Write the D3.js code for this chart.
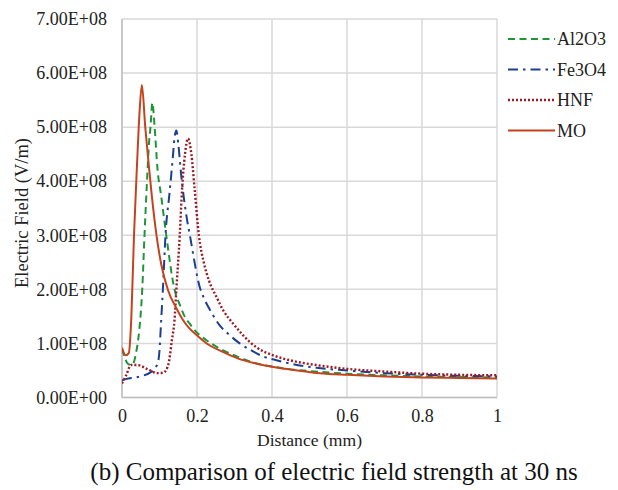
<!DOCTYPE html>
<html><head><meta charset="utf-8">
<script src="https://cdn.jsdelivr.net/npm/d3@7"></script>
<style>body{margin:0;background:#fff}svg{display:block}</style>
</head><body><svg id="c" width="618" height="490"></svg>
<script>
const xTicks = [0, 0.2, 0.4, 0.6, 0.8, 1];
const xTickLabels = ["0", "0.2", "0.4", "0.6", "0.8", "1"];
const yTicks = [0, 1e8, 2e8, 3e8, 4e8, 5e8, 6e8, 7e8];
const yTickLabels = ["0.00E+00","1.00E+08","2.00E+08","3.00E+08","4.00E+08","5.00E+08","6.00E+08","7.00E+08"];
const seriesNames = ["Al2O3", "Fe3O4", "HNF", "MO"];

const al2o3X = [0,0.015,0.024,0.032,0.037,0.046,0.054,0.06,0.066,0.072,0.076,0.081,0.087,0.095,0.104,0.118,0.14,0.155,0.167,0.181,0.2,0.225,0.27,0.314,0.358,0.403,0.45,0.5,0.6,0.7,0.8,0.9,1.0];
const al2o3Y = [0.9,0.63,0.6,0.66,0.81,1.24,2.0,3.0,3.9,4.7,5.0,5.45,5.0,4.2,3.75,3.0,2.0,1.7,1.5,1.36,1.2,1.06,0.87,0.74,0.63,0.57,0.52,0.49,0.44,0.41,0.39,0.38,0.37];

const fe3o4X = [0,0.01,0.042,0.077,0.095,0.1,0.104,0.109,0.116,0.127,0.135,0.14,0.145,0.15,0.158,0.163,0.172,0.181,0.207,0.219,0.238,0.261,0.283,0.314,0.345,0.376,0.412,0.447,0.518,0.6,0.7,0.8,0.9,1.0];
const fe3o4Y = [0.32,0.34,0.38,0.47,0.63,0.87,1.37,2.0,3.0,3.8,4.4,4.8,4.94,4.7,4.1,3.8,3.35,3.0,2.05,1.83,1.58,1.33,1.18,1.0,0.87,0.76,0.69,0.63,0.55,0.5,0.45,0.42,0.4,0.39];

const hnfX = [0,0.011,0.024,0.042,0.069,0.095,0.11,0.117,0.126,0.133,0.14,0.145,0.154,0.16,0.168,0.176,0.185,0.194,0.205,0.218,0.232,0.252,0.27,0.296,0.323,0.358,0.403,0.447,0.518,0.6,0.7,0.8,0.9,1.0];
const hnfY = [0.26,0.41,0.6,0.6,0.52,0.45,0.46,0.5,0.69,1.06,1.43,2.0,3.0,3.83,4.5,4.79,4.5,3.83,3.0,2.5,2.16,1.86,1.61,1.37,1.15,0.93,0.78,0.69,0.6,0.53,0.48,0.44,0.42,0.41];

const moX = [0,0.01,0.018,0.025,0.032,0.04,0.047,0.053,0.062,0.07,0.078,0.092,0.105,0.123,0.145,0.163,0.181,0.2,0.23,0.27,0.31,0.358,0.4,0.447,0.527,0.6,0.7,0.8,0.9,1.0];
const moY = [0.92,0.78,0.82,1.5,3.0,4.3,5.3,5.78,5.0,4.4,3.83,3.0,2.45,1.98,1.65,1.43,1.27,1.15,0.98,0.84,0.72,0.63,0.57,0.52,0.45,0.42,0.39,0.37,0.36,0.35];
const yUnit = 1e8;

const FONT = "'Liberation Serif', 'Times New Roman', serif";

const series = [
  {name: seriesNames[0], xs: al2o3X, ys: al2o3Y, color: "#1e9638", dash: "7,4.5"},
  {name: seriesNames[1], xs: fe3o4X, ys: fe3o4Y, color: "#1c3f8f", dash: "10,5,2.5,5"},
  {name: seriesNames[2], xs: hnfX, ys: hnfY, color: "#9b1b25", dash: "2,2"},
  {name: seriesNames[3], xs: moX, ys: moY, color: "#c4431c", dash: null}
];

const svg = d3.select("#c");
const L = 122, R = 497, T = 19, B = 397.5;
const x = d3.scaleLinear().domain([0, 1]).range([L, R]);
const y = d3.scaleLinear().domain([0, 7e8]).range([B, T]);

const g = svg.append("g");
g.selectAll(".gy").data(yTicks).join("line")
  .attr("x1", L).attr("x2", R).attr("y1", d => y(d)).attr("y2", d => y(d))
  .attr("stroke", "#d9d9d9").attr("stroke-width", 1.5);
g.selectAll(".gx").data(xTicks).join("line")
  .attr("y1", T).attr("y2", B).attr("x1", d => x(d)).attr("x2", d => x(d))
  .attr("stroke", "#d9d9d9").attr("stroke-width", 1.5);
svg.append("line").attr("x1", L).attr("x2", L).attr("y1", T).attr("y2", B).attr("stroke", "#bfbfbf").attr("stroke-width", 1.5);
svg.append("line").attr("x1", L).attr("x2", R).attr("y1", B).attr("y2", B).attr("stroke", "#bfbfbf").attr("stroke-width", 1.5);

const yAxis = d3.axisLeft(y).tickValues(yTicks).tickFormat((d, i) => yTickLabels[i]).tickSize(0).tickPadding(15);
const ya = svg.append("g").attr("transform", `translate(${L},0)`).call(yAxis);
ya.attr("font-family", null).attr("font-size", null);
ya.select(".domain").remove();
ya.selectAll("text").style("font-family", FONT).style("font-size", "18px").attr("fill", "#222");

const xAxis = d3.axisBottom(x).tickValues(xTicks).tickFormat((d, i) => xTickLabels[i]).tickSize(0).tickPadding(12);
const xa = svg.append("g").attr("transform", `translate(0,${B})`).call(xAxis);
xa.attr("font-family", null).attr("font-size", null);
xa.select(".domain").remove();
xa.selectAll("text").style("font-family", FONT).style("font-size", "18px").attr("fill", "#222");

function txt(sel, size) { return sel.style("font-family", FONT).style("font-size", size + "px").attr("fill", "#222"); }
txt(svg.append("text").attr("x", (L + R) / 2).attr("y", 446).attr("text-anchor", "middle"), 17.6).text("Distance (mm)");
txt(svg.append("text").attr("transform", "translate(28,213) rotate(-90)").attr("text-anchor", "middle"), 18.5).text("Electric Field (V/m)");
txt(svg.append("text").attr("x", 334).attr("y", 480).attr("text-anchor", "middle"), 25).attr("fill", "#111").text("(b) Comparison of electric field strength at 30 ns");

const line = d3.line().x(d => x(d[0])).y(d => y(d[1] * yUnit)).curve(d3.curveMonotoneX);
svg.append("clipPath").attr("id", "clip").append("rect").attr("x", L).attr("y", T - 2).attr("width", R - L).attr("height", B - T + 2);
svg.append("g").attr("clip-path", "url(#clip)").selectAll("path").data(series).join("path")
  .attr("d", s => line(s.xs.map((v, i) => [v, s.ys[i]])))
  .attr("fill", "none").attr("stroke", s => s.color).attr("stroke-width", s => s.dash === "2,2" ? 2.4 : 2)
  .attr("stroke-dasharray", s => s.dash);

const lg = svg.append("g");
series.forEach((s, i) => {
  const yy = 39 + i * 30.5;
  lg.append("line").attr("x1", 508).attr("x2", 555).attr("y1", yy).attr("y2", yy)
    .attr("stroke", s.color).attr("stroke-width", s.dash === "2,2" ? 2.4 : 2).attr("stroke-dasharray", s.dash);
  txt(lg.append("text").attr("x", 557).attr("y", yy + 6), 18).text(s.name);
});
</script></body></html>
